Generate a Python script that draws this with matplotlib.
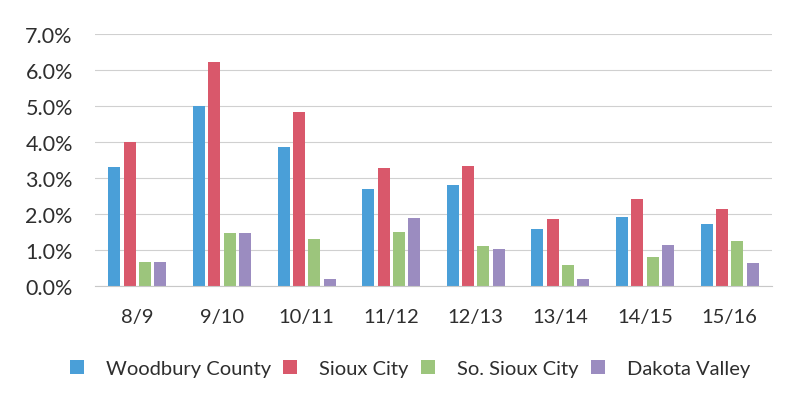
import numpy as np
import matplotlib.pyplot as plt
from matplotlib.ticker import FuncFormatter

plt.rcParams['font.family'] = ['Lato', 'DejaVu Sans']

years = ['8/9', '9/10', '10/11', '11/12', '12/13', '13/14', '14/15', '15/16']
woodbury = [3.3, 5.0, 3.85, 2.7, 2.8, 1.57, 1.92, 1.73]
sioux_city = [4.0, 6.23, 4.82, 3.28, 3.32, 1.87, 2.43, 2.15]
so_sioux = [0.67, 1.47, 1.3, 1.49, 1.1, 0.58, 0.82, 1.24]
dakota = [0.68, 1.48, 0.19, 1.9, 1.02, 0.2, 1.13, 0.63]

series = [
    ('Woodbury County', woodbury, '#4a9fd8'),
    ('Sioux City', sioux_city, '#d9586b'),
    ('So. Sioux City', so_sioux, '#9cc57c'),
    ('Dakota Valley', dakota, '#9b8cc0'),
]

fig = plt.figure(figsize=(7.88, 4.06), dpi=100)
ax = fig.add_axes([0.1206, 0.293, 0.859, 0.621])

x = np.arange(len(years))
step = 0.181
width = 0.142
for i, (name, vals, col) in enumerate(series):
    ax.bar(x + (i - 1.5) * step, vals, width, color=col, label=name, zorder=2)

ax.set_xlim(-0.5, len(years) - 0.5)
ax.set_ylim(0, 7)
ax.set_yticks(np.arange(0, 7.5, 1))
ax.yaxis.set_major_formatter(FuncFormatter(lambda v, p: '%.1f%%' % v))
ax.set_xticks(x)
ax.set_xticklabels(years)
ax.grid(axis='y', color='#d0d0d0', linewidth=0.8, zorder=0)
for s in ['top', 'right', 'left']:
    ax.spines[s].set_visible(False)
ax.spines['bottom'].set_color('#c8c8c8')
ax.tick_params(axis='both', length=0, labelsize=14.5, colors='#2e2e2e')
ax.tick_params(axis='y', labelsize=15.5)
ax.tick_params(axis='x', pad=16)
ax.tick_params(axis='y', pad=16)

fig.legend(loc='center', bbox_to_anchor=(0.52, 0.089), ncol=4, frameon=False,
           fontsize=14.5, handlelength=0.7, handleheight=0.7,
           handletextpad=1.1, columnspacing=0.6, labelcolor='#2e2e2e')

fig.savefig('out.png', dpi=100)
